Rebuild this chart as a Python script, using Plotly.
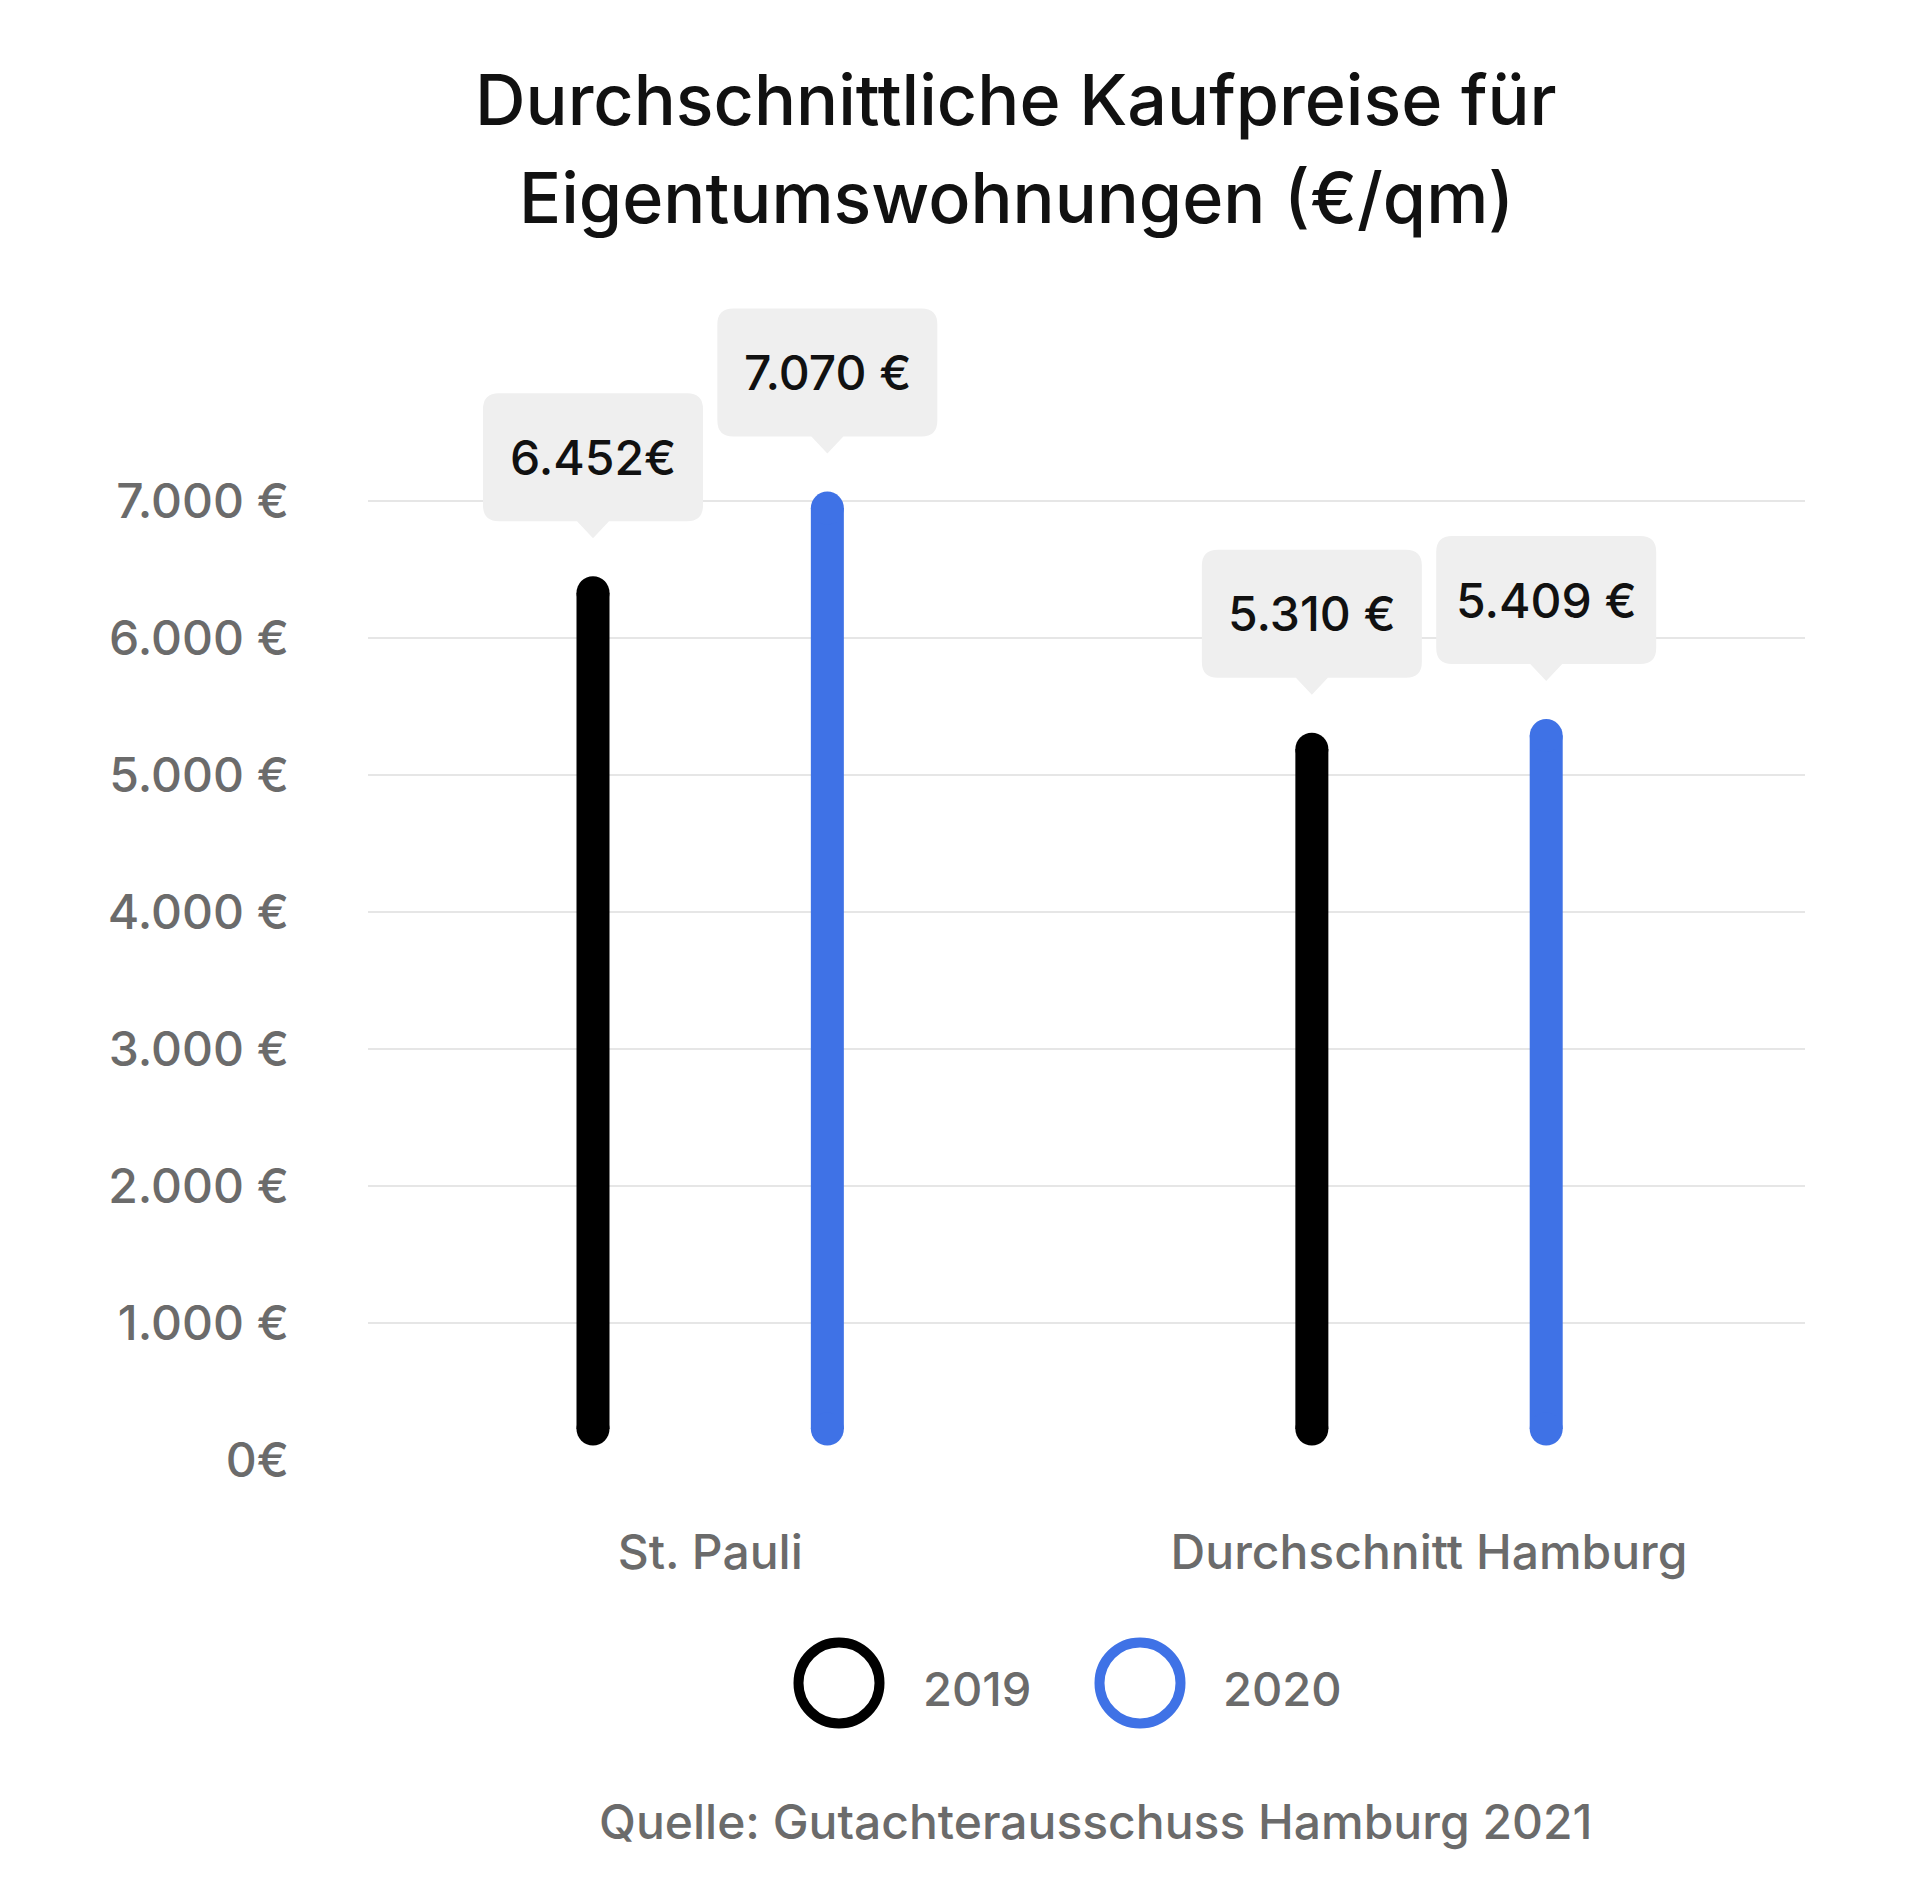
import plotly.graph_objects as go

categories = ["St. Pauli", "Durchschnitt Hamburg"]
years = ["2019", "2020"]
values_2019 = [6452, 5310]
values_2020 = [7070, 5409]
labels_2019 = ["6.452€", "5.310 €"]
labels_2020 = ["7.070 €", "5.409 €"]
colors = ["#000000", "#3f72e6"]
y_ticks = [0, 1000, 2000, 3000, 4000, 5000, 6000, 7000]
y_ticktext = ["0€", "1.000 €", "2.000 €", "3.000 €", "4.000 €", "5.000 €", "6.000 €", "7.000 €"]
title_lines = ["Durchschnittliche Kaufpreise für", "Eigentumswohnungen (€/qm)"]
source = "Quelle: Gutachterausschuss Hamburg 2021"

W, H = 1920, 1884
L, R, B = 360, 123, 432
PX_PER_1000 = 137
YMAX = 8600
T = round(H - B - YMAX * PX_PER_1000 / 1000)
FONT = "Inter"
GREY = "#6b6b6b"
BOX = "#efefef"

plot_w = W - L - R
plot_h = H - T - B
upp = YMAX / plot_h  # data units per pixel


def px(p):
    return (p - L) / plot_w


def py(p):
    return (H - B - p) / plot_h


def bubble_path(hw=110, b=55, h=128, r=16, tw=16, th=17):
    # rounded box with a small pointer, pixel offsets (y up) from the bar top
    t = b + h
    return (f"M {-hw + r},{b} L {-tw},{b} L 0,{b - th} L {tw},{b} L {hw - r},{b} "
            f"Q {hw},{b} {hw},{b + r} L {hw},{t - r} Q {hw},{t} {hw - r},{t} "
            f"L {-hw + r},{t} Q {-hw},{t} {-hw},{t - r} L {-hw},{b + r} "
            f"Q {-hw},{b} {-hw + r},{b} Z")


fig = go.Figure()

offset = 0.163
bar_w = 33
series = [(years[0], values_2019, labels_2019, -offset, colors[0]),
          (years[1], values_2020, labels_2020, offset, colors[1])]

for name, vals, labs, off, col in series:
    for i, v in enumerate(vals):
        x = i + off
        # thick line with round caps (markers at both ends)
        fig.add_trace(go.Scatter(
            x=[x, x], y=[31 * upp, v - (bar_w / 2) * upp],
            mode="lines+markers",
            line=dict(color=col, width=bar_w),
            marker=dict(color=col, size=bar_w, line=dict(width=0)),
            showlegend=False, hoverinfo="skip"))
        fig.add_shape(type="path", xref="x", yref="y",
                      xsizemode="pixel", ysizemode="pixel",
                      xanchor=x, yanchor=v, path=bubble_path(),
                      fillcolor=BOX, line=dict(width=0), layer="above")
        fig.add_annotation(x=x, y=v, xref="x", yref="y", text=labs[i],
                           showarrow=False, yanchor="middle", yshift=119,
                           font=dict(family=FONT, size=48, color="#111111", weight=500))

# title
for k, line in enumerate(title_lines):
    fig.add_annotation(x=px(1008), y=py([92, 189][k]), xref="paper", yref="paper",
                       text=line, showarrow=False, xanchor="center", yanchor="middle",
                       font=dict(family=FONT, size=70, color="#111111", weight=500))

# legend drawn by hand so the circles can be large
leg_x = [831, 1132]
leg_tx = [969, 1274]
for k in range(2):
    fig.add_shape(type="circle", xref="paper", yref="paper",
                  xsizemode="pixel", ysizemode="pixel",
                  xanchor=px(leg_x[k]), yanchor=py(1675),
                  x0=-40.5, x1=40.5, y0=-40.5, y1=40.5,
                  line=dict(color=colors[k], width=10))
    fig.add_annotation(x=px(leg_tx[k]), y=py(1680), xref="paper", yref="paper",
                       text=years[k], showarrow=False, xanchor="center", yanchor="middle",
                       font=dict(family=FONT, size=47, color=GREY, weight=500))

fig.add_annotation(x=px(1088), y=py(1813), xref="paper", yref="paper",
                   text=source, showarrow=False, xanchor="center", yanchor="middle",
                   font=dict(family=FONT, size=48, color=GREY, weight=500))

fig.update_layout(
    width=W, height=H,
    margin=dict(l=L, r=R, t=T, b=B),
    paper_bgcolor="white", plot_bgcolor="white",
    showlegend=False,
    xaxis=dict(range=[-0.476, 1.523], tickvals=[0, 1], ticktext=categories,
               showgrid=False, zeroline=False, showline=False,
               ticklabelstandoff=60,
               tickfont=dict(family=FONT, size=48, color=GREY, weight=500)),
    yaxis=dict(range=[0, YMAX], tickvals=y_ticks, ticktext=y_ticktext,
               showgrid=True, gridcolor="#e6e6e6", gridwidth=2,
               zeroline=False, showline=False, ticklabelstandoff=78,
               tickfont=dict(family=FONT, size=48, color=GREY, weight=500)),
)

fig.write_html("out.html")
